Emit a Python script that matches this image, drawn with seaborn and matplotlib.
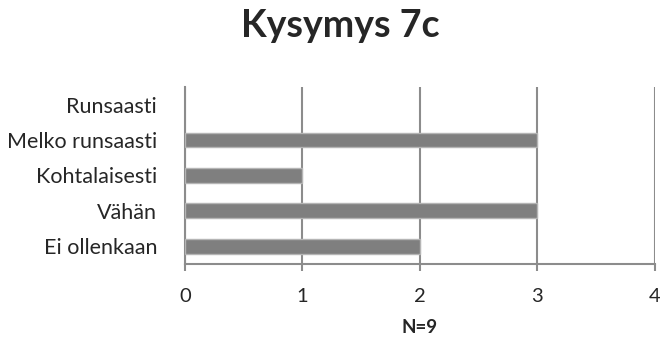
import matplotlib
matplotlib.use("Agg")
import matplotlib.pyplot as plt
import seaborn as sns
import pandas as pd

# ==================== data ====================
categories = ["Runsaasti", "Melko runsaasti", "Kohtalaisesti", "Vähän", "Ei ollenkaan"]
counts = [0, 3, 1, 3, 2]
x_ticks = [0, 1, 2, 3, 4]
title = "Kysymys 7c"
x_label = "N=9"

df = pd.DataFrame({"vastaus": categories, "lkm": counts})

sns.set_theme(style="white")
plt.rcParams['font.family'] = ['Lato', 'DejaVu Sans']

fig = plt.figure(figsize=(6.6, 3.42), dpi=100)
ax = fig.add_axes([0.280, 0.228, 0.712, 0.518])

sns.barplot(data=df, x="lkm", y="vastaus", order=categories, orient="h",
            color="#7f7f7f", saturation=1, width=0.42,
            edgecolor="#b5b5b5", linewidth=1.0, ax=ax, zorder=3)
# zero-length bar should not leave an edge stroke
for patch, v in zip(ax.patches, counts):
    if v == 0:
        patch.set_linewidth(0)

ax.set_xlim(0, 4)
ax.set_xticks(x_ticks)
ax.set_xticklabels([str(t) for t in x_ticks], fontsize=14.5)
ax.tick_params(axis="y", labelsize=15.5, length=0, pad=20)
ax.tick_params(axis="x", length=5, width=1.5, color="#8c8c8c", direction="out", pad=12, bottom=True)
ax.grid(axis="x", color="#8c8c8c", linewidth=1.5, zorder=0)
ax.grid(axis="y", visible=False)

for side in ["top", "right"]:
    ax.spines[side].set_visible(False)
for side in ["left", "bottom"]:
    ax.spines[side].set_color("#8c8c8c")
    ax.spines[side].set_linewidth(1.5)

ax.set_ylabel("")
ax.set_xlabel(x_label, fontsize=13.5, fontweight="bold", labelpad=10)
fig.suptitle(title, fontsize=27, fontweight="bold", x=0.515, y=0.975)

fig.savefig("out.png", dpi=100)
